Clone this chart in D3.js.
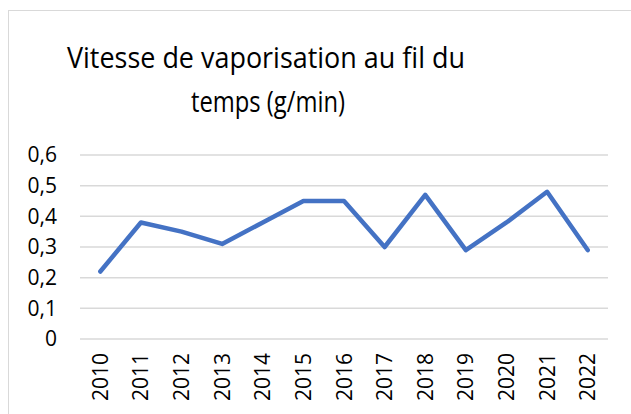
<!DOCTYPE html>
<html>
<head>
<meta charset="utf-8">
<script src="https://cdn.jsdelivr.net/npm/d3@7/dist/d3.min.js"></script>
<style>
  html, body { margin: 0; padding: 0; background: #fff; }
  svg { display: block; }
</style>
</head>
<body>
<svg id="chart" width="631" height="414"></svg>
<script>
// Vaporisation rate per year (g/min)
const years = ["2010","2011","2012","2013","2014","2015","2016","2017","2018","2019","2020","2021","2022"];
const rates = [0.22, 0.38, 0.35, 0.31, 0.38, 0.45, 0.45, 0.30, 0.47, 0.29, 0.38, 0.48, 0.29];
const yTicks = [0, 0.1, 0.2, 0.3, 0.4, 0.5, 0.6];
const titleLines = ["Vitesse de vaporisation au fil du", "temps (g/min)"];

const svg = d3.select("#chart");
const W = 631, H = 414;
const plot = { left: 80, right: 608, top: 155, bottom: 339 };
const font = "'Open Sans', 'Liberation Sans', sans-serif";

// chart frame
svg.append("rect")
  .attr("x", 8.5).attr("y", 10.5)
  .attr("width", W).attr("height", H)
  .attr("fill", "#fff").attr("stroke", "#d9d9d9").attr("stroke-width", 1);

const x = d3.scaleBand().domain(years).range([plot.left, plot.right]);
const y = d3.scaleLinear().domain([0, 0.6]).range([plot.bottom, plot.top]);

// gridlines
svg.append("g")
  .selectAll("line").data(yTicks).join("line")
  .attr("x1", plot.left).attr("x2", plot.right)
  .attr("y1", d => y(d)).attr("y2", d => y(d))
  .attr("stroke", "#d9d9d9").attr("stroke-width", 1.5);

// y axis labels
const fmt = d => d === 0 ? "0" : d3.format(".1f")(d).replace(".", ",");
const yAxis = d3.axisLeft(y).tickValues(yTicks).tickFormat(fmt).tickSize(0).tickPadding(0);
const gy = svg.append("g").attr("transform", "translate(57,0)").call(yAxis);
gy.select(".domain").remove();
gy.selectAll("text")
  .attr("font-family", font).attr("font-size", 21).attr("fill", "#000");

// x axis labels (rotated)
const xAxis = d3.axisBottom(x).tickSize(0).tickPadding(0);
const gx = svg.append("g").attr("transform", `translate(0,${plot.bottom})`).call(xAxis);
gx.select(".domain").remove();
gx.selectAll("text")
  .attr("font-family", font).attr("font-size", 21).attr("fill", "#000")
  .attr("transform", "rotate(-90)")
  .attr("text-anchor", "end")
  .attr("x", -14).attr("y", 0).attr("dy", "0.36em");

// series line
const line = d3.line()
  .x((d, i) => x(years[i]) + x.bandwidth() / 2)
  .y(d => y(d));
svg.append("path")
  .datum(rates)
  .attr("d", line)
  .attr("fill", "none")
  .attr("stroke", "#4472c4")
  .attr("stroke-width", 4.5)
  .attr("stroke-linejoin", "round")
  .attr("stroke-linecap", "round");

// title, two centred lines fitted to a narrow width
const title = svg.append("g").attr("font-family", font).attr("fill", "#000")
  .attr("font-size", 30).attr("text-anchor", "middle");
title.append("text").attr("x", 266).attr("y", 68)
  .attr("textLength", 398).attr("lengthAdjust", "spacingAndGlyphs")
  .text(titleLines[0]);
title.append("text").attr("x", 268).attr("y", 112)
  .attr("textLength", 154).attr("lengthAdjust", "spacingAndGlyphs")
  .text(titleLines[1]);
</script>
</body>
</html>
